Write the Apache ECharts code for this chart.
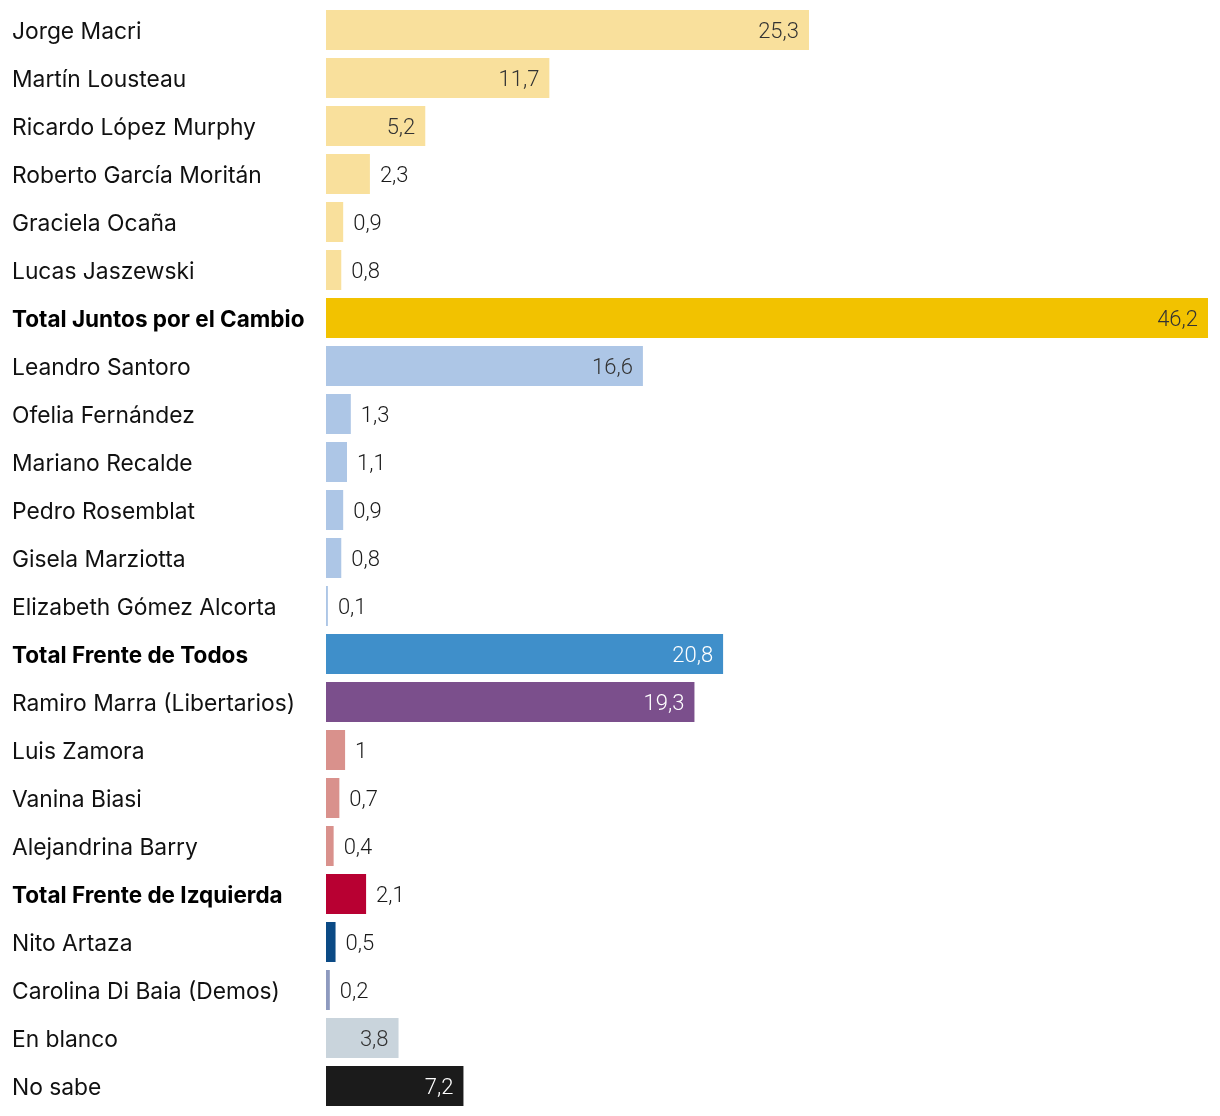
<!DOCTYPE html>
<html><head><meta charset="utf-8">
<script src="https://cdn.jsdelivr.net/npm/echarts@6/dist/echarts.min.js"></script>
<style>html,body{margin:0;padding:0;background:#fff}#c{width:1220px;height:1116px}</style>
</head><body><div id="c"></div>
<script>
const categories = ["Jorge Macri","Martín Lousteau","Ricardo López Murphy","Roberto García Moritán","Graciela Ocaña","Lucas Jaszewski","Total Juntos por el Cambio","Leandro Santoro","Ofelia Fernández","Mariano Recalde","Pedro Rosemblat","Gisela Marziotta","Elizabeth Gómez Alcorta","Total Frente de Todos","Ramiro Marra (Libertarios)","Luis Zamora","Vanina Biasi","Alejandrina Barry","Total Frente de Izquierda","Nito Artaza","Carolina Di Baia (Demos)","En blanco","No sabe"];
const values = [25.3,11.7,5.2,2.3,0.9,0.8,46.2,16.6,1.3,1.1,0.9,0.8,0.1,20.8,19.3,1,0.7,0.4,2.1,0.5,0.2,3.8,7.2];
const groups = ["jxc","jxc","jxc","jxc","jxc","jxc","jxcT","fdt","fdt","fdt","fdt","fdt","fdt","fdtT","lib","fit","fit","fit","fitT","artaza","demos","blanco","nosabe"];
const totals = ["Total Juntos por el Cambio","Total Frente de Todos","Total Frente de Izquierda"];

const styles = {
  jxc:{c:"#F9E09C",t:"#333"}, jxcT:{c:"#F2C200",t:"#333"},
  fdt:{c:"#ADC6E6",t:"#333"}, fdtT:{c:"#3F8FCA",t:"#fff"},
  lib:{c:"#7B4F8C",t:"#fff"}, fit:{c:"#D9918C",t:"#333"}, fitT:{c:"#B80032",t:"#333"},
  artaza:{c:"#0B4A85",t:"#333"}, demos:{c:"#8E9ABF",t:"#333"},
  blanco:{c:"#C9D4DC",t:"#333"}, nosabe:{c:"#1B1B1B",t:"#fff"}
};
const fmt = v => String(v).replace('.', ',');
const data = values.map((v,i)=>{
  const s = styles[groups[i]];
  const inside = v >= 3.5;
  return {value:v, itemStyle:{color:s.c},
    label:{show:true, position: inside?'insideRight':'right', distance:10, offset:[0,2],
      color: inside? s.t : '#1a1a1a', formatter: p=>fmt(p.value),
      fontFamily:'Roboto', fontWeight:300, fontSize:22}};
});
const chart = echarts.init(document.getElementById('c'));
chart.setOption({
  animation:false,
  grid:{left:326,right:12,top:6,bottom:6},
  xAxis:{type:'value',min:0,max:46.2,show:false},
  yAxis:{type:'category',data:categories,inverse:true,
    axisLine:{show:false},axisTick:{show:false},splitLine:{show:false},
    axisLabel:{align:'left',margin:314,
      formatter:v=> totals.includes(v)? '{b|'+v+'}' : '{n|'+v+'}',
      rich:{n:{fontFamily:'Inter',fontSize:22.8,color:'#111',padding:[4,0,0,0]},
            b:{fontFamily:'Inter',fontSize:22.5,fontWeight:'bold',color:'#000',padding:[4,0,0,0]}}}},
  series:[{type:'bar',data:data,barWidth:40}]
});
</script></body></html>
